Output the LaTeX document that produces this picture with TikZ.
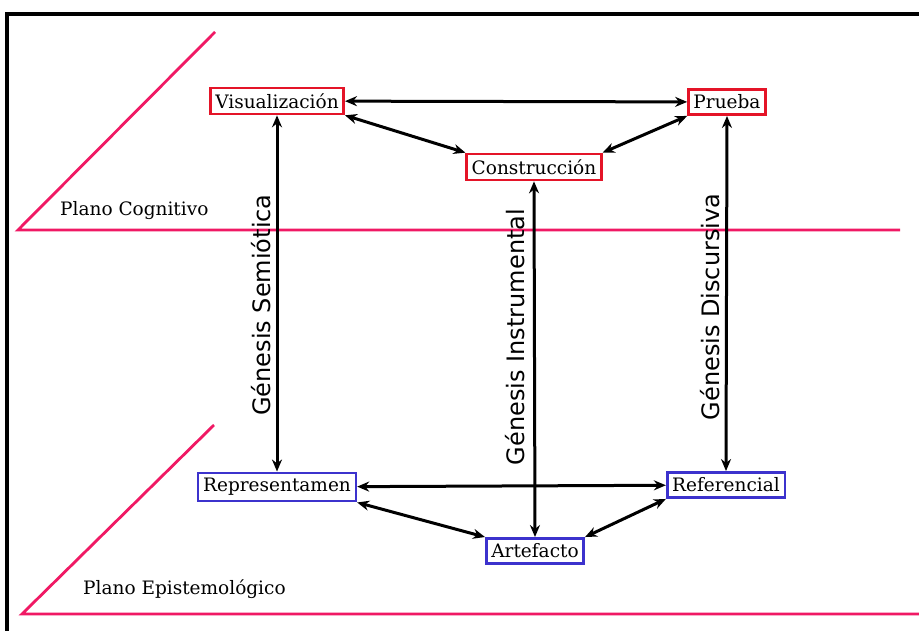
\documentclass[tikz,border=0pt]{standalone}
\usepackage{fontspec}
\setmainfont{DejaVu Serif}
\newfontfamily\lblfont{DejaVu Sans}
\usetikzlibrary{arrows.meta}
\definecolor{pinkline}{RGB}{240,25,100}
\definecolor{redbox}{RGB}{228,20,40}
\definecolor{bluebox}{RGB}{60,50,205}
\tikzset{
  cogbox/.style={draw=redbox,line width=2.6pt,inner xsep=5pt,inner ysep=5.5pt,font=\fontsize{18.5}{22}\selectfont},
  epibox/.style={draw=bluebox,line width=2.6pt,inner xsep=5pt,inner ysep=5.5pt,font=\fontsize{18.5}{22}\selectfont},
  link/.style={line width=3pt,{Stealth[length=12pt,width=10pt]}-{Stealth[length=12pt,width=10pt]}},
  plane/.style={draw=pinkline,line width=2.8pt},
  genlbl/.style={rotate=90,font=\lblfont\fontsize{24}{28}\selectfont,inner sep=0pt},
  planelbl/.style={font=\fontsize{18.5}{22}\selectfont,anchor=west,inner sep=0pt}
}
\begin{document}
\begin{tikzpicture}[x=1pt,y=-1pt]
\useasboundingbox (0,0) rectangle (919,631);
\fill[white] (0,0) rectangle (919,631);
% frame
\draw[line width=3.5pt] (7,660) -- (7,14) -- (940,14);
% planes
\coordinate (c1) at (215,32);
\coordinate (c2) at (18,230);
\coordinate (c3) at (900,230);
\draw[plane,line join=miter] (c1) -- (c2) -- (c3);
\coordinate (e1) at (214,425);
\coordinate (e2) at (22,614);
\coordinate (e3) at (925,614);
\draw[plane,line join=miter] (e1) -- (e2) -- (e3);
\node[planelbl] (pc) at (60,211) {Plano Cognitivo};
\node[planelbl] (pe) at (83,589) {Plano Epistemológico};
% nodes
\node[cogbox] (vis) at (277,101) {Visualización};
\node[cogbox] (pru) at (727,102) {Prueba};
\node[cogbox] (con) at (534,167) {Construcción};
\node[epibox] (rep) at (277,487) {Representamen};
\node[epibox] (ref) at (726,485) {Referencial};
\node[epibox] (art) at (535,551) {Artefacto};
% links
\draw[link] (vis) -- (pru);
\draw[link] (vis.south east) -- (con.north west);
\draw[link] (pru.south west) -- (con.north east);
\draw[link] (vis.south) -- (rep.north);
\draw[link] (con.south) -- (art.north);
\draw[link] (pru.south) -- (ref.north);
\draw[link] (rep) -- (ref);
\draw[link] (rep.south east) -- (art.north west);
\draw[link] (ref.south west) -- (art.north east);
% genesis labels
\node[genlbl] (gs) at (261,305) {Génesis Semiótica};
\node[genlbl] (gi) at (515,337) {Génesis Instrumental};
\node[genlbl] (gd) at (710,307) {Génesis Discursiva};
\end{tikzpicture}
\end{document}
